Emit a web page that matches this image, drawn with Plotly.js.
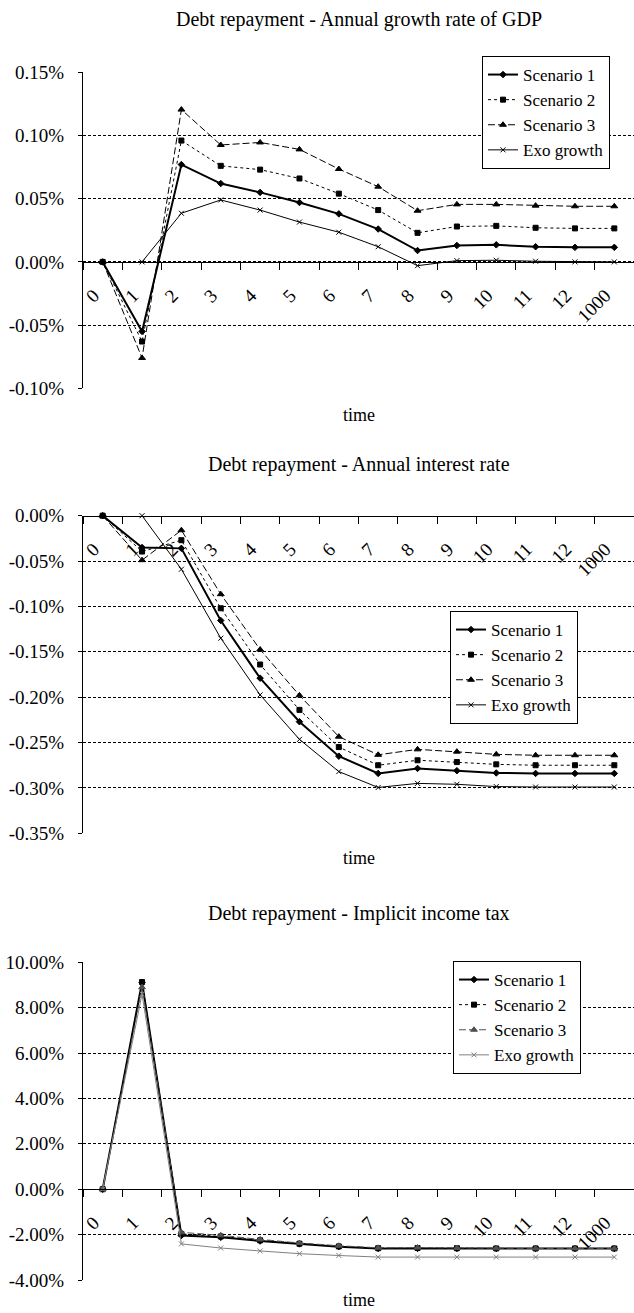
<!DOCTYPE html>
<html>
<head>
<meta charset="utf-8">
<script src="https://cdn.plot.ly/plotly-3.0.1.min.js"></script>
<style>
  html, body { margin: 0; padding: 0; background: #fff; }
  #chart { width: 634px; height: 1313px; }
</style>
</head>
<body>
<div id="chart"></div>
<script>
// ---------------- data ----------------
const categories = ['0','1','2','3','4','5','6','7','8','9','10','11','12','1000'];
const seriesNames = ['Scenario 1','Scenario 2','Scenario 3','Exo growth'];

// Chart 1: annual growth rate of GDP (values in %)
const gdpS1  = [0, -0.055, 0.077, 0.062, 0.055, 0.047, 0.038, 0.026, 0.009, 0.013, 0.0135, 0.012, 0.0115, 0.0115];
const gdpS2  = [0, -0.063, 0.096, 0.076, 0.073, 0.066, 0.054, 0.041, 0.023, 0.028, 0.0285, 0.027, 0.0265, 0.0265];
const gdpS3  = [0, -0.076, 0.1205, 0.0925, 0.0945, 0.089, 0.0735, 0.0595, 0.0405, 0.0455, 0.0455, 0.0445, 0.044, 0.044];
const gdpExo = [null, 0, 0.0385, 0.049, 0.041, 0.0315, 0.0235, 0.012, -0.003, 0.001, 0.0013, 0.0005, 0, 0];

// Chart 2: annual interest rate (values in %)
const intS1  = [0, -0.035, -0.036, -0.1155, -0.179, -0.227, -0.265, -0.284, -0.2785, -0.281, -0.2835, -0.284, -0.284, -0.284];
const intS2  = [0, -0.0395, -0.027, -0.102, -0.164, -0.214, -0.255, -0.275, -0.2695, -0.2715, -0.274, -0.275, -0.275, -0.275];
const intS3  = [0, -0.049, -0.016, -0.0865, -0.1475, -0.198, -0.2435, -0.2635, -0.2575, -0.26, -0.263, -0.264, -0.264, -0.264];
const intExo = [null, 0, -0.059, -0.135, -0.1975, -0.2465, -0.282, -0.2995, -0.295, -0.296, -0.2985, -0.299, -0.299, -0.299];

// Chart 3: implicit income tax (values in %)
const taxS1  = [0, 9.12, -2.04, -2.12, -2.28, -2.41, -2.53, -2.61, -2.61, -2.61, -2.61, -2.61, -2.61, -2.61];
const taxS2  = [0, 9.13, -1.97, -2.08, -2.25, -2.40, -2.52, -2.60, -2.59, -2.60, -2.61, -2.61, -2.61, -2.61];
const taxS3  = [0, 8.90, -1.90, -2.03, -2.21, -2.37, -2.49, -2.58, -2.57, -2.59, -2.60, -2.61, -2.61, -2.61];
const taxExo = [0, 8.60, -2.41, -2.59, -2.72, -2.84, -2.92, -2.99, -2.99, -2.99, -2.99, -2.99, -2.99, -2.99];

// tick values / labels
const gdpTickVals = [-0.10, -0.05, 0, 0.05, 0.10, 0.15];
const gdpTickText = ['-0.10%', '-0.05%', '0.00%', '0.05%', '0.10%', '0.15%'];
const intTickVals = [-0.35, -0.30, -0.25, -0.20, -0.15, -0.10, -0.05, 0];
const intTickText = ['-0.35%', '-0.30%', '-0.25%', '-0.20%', '-0.15%', '-0.10%', '-0.05%', '0.00%'];
const taxTickVals = [-4, -2, 0, 2, 4, 6, 8, 10];
const taxTickText = ['-4.00%', '-2.00%', '0.00%', '2.00%', '4.00%', '6.00%', '8.00%', '10.00%'];

const titles = ['Debt repayment - Annual growth rate of GDP',
                'Debt repayment - Annual interest rate',
                'Debt repayment - Implicit income tax'];
const xTitle = 'time';

// ---------------- layout helpers ----------------
const W = 634, H = 1313;
const FONT = 'Liberation Serif, Times New Roman, serif';
const py = p => 1 - p / H;                    // pixel row -> paper fraction
const ML = 83, PW = W - ML;
const px = p => (p - ML) / PW;                 // pixel col -> paper fraction

const panels = [
  {top: 72.3,  bottom: 388.3, range: [-0.10, 0.15], tv: gdpTickVals, tt: gdpTickText, titleY: 19,  timeY: 415,
   data: [gdpS1, gdpS2, gdpS3, gdpExo], legend: {x: 482, y: 56}, colors: ['#000','#000','#000','#000']},
  {top: 515.7, bottom: 833.3, range: [-0.35, 0.0], tv: intTickVals, tt: intTickText, titleY: 465, timeY: 858,
   data: [intS1, intS2, intS3, intExo], legend: {x: 450, y: 611}, colors: ['#000','#000','#000','#000']},
  {top: 962.3, bottom: 1280, range: [-4, 10], tv: taxTickVals, tt: taxTickText, titleY: 913, timeY: 1300,
   data: [taxS1, taxS2, taxS3, taxExo], legend: {x: 453, y: 961}, colors: ['#000','#000','#505050','#808080']}
];

const styles = [
  {dash: 'solid', width: 2, symbol: 'diamond', size: 5},
  {dash: 'dot', width: 1, symbol: 'square', size: 5},
  {dash: '7px,3px', width: 1, symbol: 'triangle-up', size: 6},
  {dash: 'solid', width: 1, symbol: 'x-thin', size: 5}
];

const traces = [];
const layout = {
  width: W, height: H,
  margin: {l: ML, r: 0, t: 0, b: 0},
  paper_bgcolor: '#fff', plot_bgcolor: '#fff',
  font: {family: FONT, size: 19, color: '#000'},
  showlegend: true,
  annotations: []
};

panels.forEach((p, i) => {
  const n = i === 0 ? '' : String(i + 1);
  const xa = 'x' + n, ya = 'y' + n;
  const legName = 'legend' + n;
  const d0 = py(p.bottom), d1 = py(p.top);
  const zeroPos = d0 + (0 - p.range[0]) / (p.range[1] - p.range[0]) * (d1 - d0);

  p.data.forEach((vals, k) => {
    const s = styles[k];
    const c = p.colors[k];
    traces.push({
      type: 'scatter', mode: 'lines+markers',
      x: categories, y: vals, name: seriesNames[k],
      xaxis: xa, yaxis: ya, legend: legName,
      connectgaps: false, cliponaxis: false,
      line: {color: c, width: s.width, dash: s.dash},
      marker: {symbol: s.symbol, size: s.size, color: c, line: {color: c, width: 1}}
    });
  });

  layout['xaxis' + n] = {
    type: 'category', categoryorder: 'array', categoryarray: categories,
    range: [-0.5, 13.5], domain: [0, 1],
    anchor: 'free', position: zeroPos,
    showline: true, linecolor: '#000', linewidth: 1,
    showgrid: false, zeroline: false,
    ticks: 'outside', tickson: 'boundaries', ticklen: 7, tickcolor: '#000', tickwidth: 1,
    tickangle: -45, tickfont: {family: FONT, size: 19, color: '#000'},
    ticklabelstandoff: 14, ticklabelshift: -9,
    fixedrange: true
  };
  layout['yaxis' + n] = {
    domain: [d0, d1], range: p.range, anchor: xa,
    tickmode: 'array', tickvals: p.tv, ticktext: p.tt,
    showline: true, linecolor: '#000', linewidth: 1,
    ticks: 'outside', ticklen: 4, tickcolor: '#000',
    showgrid: true, gridcolor: '#000', gridwidth: 1, griddash: '3px,2px',
    zeroline: false,
    tickfont: {family: FONT, size: 19, color: '#000'},
    ticklabelstandoff: 10,
    fixedrange: true
  };
  layout[legName] = {
    x: px(p.legend.x), y: py(p.legend.y), xanchor: 'left', yanchor: 'top',
    xref: 'paper', yref: 'paper',
    bgcolor: '#fff', bordercolor: '#000', borderwidth: 1,
    font: {family: FONT, size: 17, color: '#000'},
    itemwidth: 30, tracegroupgap: 0
  };
  layout.annotations.push({
    text: titles[i], xref: 'paper', yref: 'paper', x: 0.5, y: py(p.titleY),
    xanchor: 'center', yanchor: 'middle', showarrow: false,
    font: {family: FONT, size: 20, color: '#000'}
  });
  layout.annotations.push({
    text: xTitle, xref: 'paper', yref: 'paper', x: 0.5, y: py(p.timeY),
    xanchor: 'center', yanchor: 'middle', showarrow: false,
    font: {family: FONT, size: 18, color: '#000'}
  });
});

Plotly.newPlot('chart', traces, layout, {displayModeBar: false, staticPlot: true});
</script>
</body>
</html>
